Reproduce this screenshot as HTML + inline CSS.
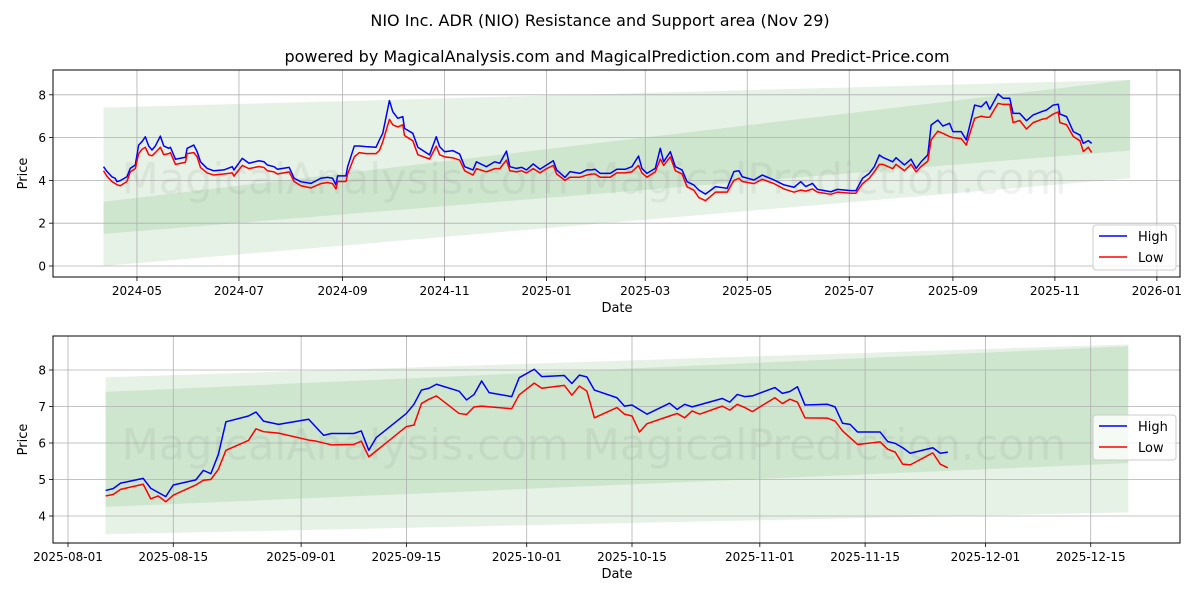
<!DOCTYPE html>
<html><head><meta charset="utf-8"><style>
body{margin:0;background:#fff;font-family:"Liberation Sans","DejaVu Sans",sans-serif;}
svg text{font-family:"DejaVu Sans","Liberation Sans",sans-serif;}
</style></head><body>
<svg id="chart" width="1200" height="600" xmlns="http://www.w3.org/2000/svg">
<rect width="1200" height="600" fill="#fff"/>
<text x="600" y="26" font-size="16" text-anchor="middle">NIO Inc. ADR (NIO) Resistance and Support area (Nov 29)</text>
<text x="617" y="62" font-size="16" text-anchor="middle">powered by MagicalAnalysis.com and MagicalPrediction.com and Predict-Price.com</text>
<g id="top"></g><g id="bot"></g>
</svg>
<script>
// ---- top chart data (days since 2024-04-01) ----
const topDays=[10,12,15,17,18,20,24,26,29,31,33,35,37,39,41,44,46,49,50,53,59,60,64,66,68,72,76,82,87,88,93,97,103,106,108,112,114,121,124,128,134,140,144,147,149,150,155,156,160,163,167,173,175,177,181,183,186,189,190,195,198,205,209,211,214,219,223,226,231,233,239,244,247,251,253,257,260,263,267,271,275,279,281,286,289,295,299,302,304,307,313,317,322,326,330,332,335,340,343,345,349,352,356,359,363,366,370,376,383,387,390,392,399,404,411,417,423,427,430,434,437,445,449,457,460,464,468,471,474,476,482,484,489,493,496,499,503,505,509,512,516,518,523,526,531,535,538,540,545,548,552,554,558,562,566,571,574,578,581,582,586,590,594,596,599,601];
const topHigh=[4.64,4.42,4.17,4.10,3.94,3.99,4.17,4.56,4.72,5.65,5.81,6.04,5.61,5.42,5.61,6.07,5.61,5.50,5.55,4.99,5.08,5.50,5.65,5.34,4.87,4.56,4.45,4.49,4.64,4.49,5.03,4.80,4.92,4.87,4.72,4.64,4.52,4.61,4.10,3.94,3.86,4.10,4.14,4.10,3.79,4.21,4.21,4.64,5.61,5.61,5.58,5.55,5.89,6.20,7.73,7.21,6.90,6.98,6.43,6.20,5.55,5.19,6.04,5.58,5.34,5.39,5.23,4.64,4.49,4.87,4.64,4.87,4.80,5.37,4.64,4.56,4.61,4.49,4.77,4.52,4.72,4.92,4.49,4.14,4.41,4.33,4.49,4.49,4.52,4.33,4.33,4.52,4.52,4.64,5.14,4.56,4.33,4.56,5.50,4.87,5.34,4.64,4.49,3.94,3.79,3.55,3.36,3.71,3.63,4.41,4.45,4.17,4.02,4.25,4.02,3.79,3.68,3.94,3.71,3.86,3.58,3.47,3.58,3.52,3.52,4.10,4.33,4.64,5.19,5.08,4.87,5.06,4.72,4.99,4.56,4.87,5.19,6.59,6.82,6.54,6.67,6.28,6.28,5.89,7.52,7.44,7.68,7.32,8.04,7.84,7.84,7.13,7.13,6.79,7.06,7.21,7.29,7.52,7.56,7.10,6.98,6.28,6.12,5.73,5.86,5.73];
const topLow=[4.45,4.20,3.95,3.85,3.80,3.75,3.95,4.40,4.55,5.25,5.45,5.55,5.20,5.15,5.30,5.55,5.20,5.25,5.30,4.75,4.85,5.25,5.30,5.10,4.60,4.35,4.25,4.30,4.35,4.20,4.70,4.55,4.65,4.60,4.45,4.40,4.30,4.40,3.95,3.75,3.65,3.85,3.90,3.85,3.60,3.95,3.95,4.30,5.10,5.30,5.25,5.25,5.40,5.80,6.85,6.60,6.50,6.60,6.10,5.85,5.20,5.00,5.60,5.20,5.10,5.05,4.95,4.45,4.25,4.55,4.40,4.55,4.55,4.95,4.45,4.40,4.45,4.35,4.55,4.35,4.55,4.70,4.30,4.00,4.15,4.15,4.25,4.30,4.30,4.15,4.15,4.35,4.35,4.40,4.70,4.35,4.15,4.40,5.00,4.70,5.10,4.45,4.30,3.70,3.55,3.20,3.05,3.45,3.45,4.00,4.10,3.95,3.85,4.05,3.85,3.60,3.45,3.55,3.50,3.60,3.45,3.35,3.45,3.40,3.40,3.85,4.10,4.40,4.75,4.75,4.55,4.75,4.45,4.75,4.40,4.65,4.90,5.90,6.30,6.20,6.05,6.00,5.95,5.65,6.90,7.00,6.95,6.95,7.60,7.55,7.55,6.70,6.80,6.40,6.70,6.85,6.90,7.10,7.20,6.70,6.60,6.05,5.85,5.35,5.55,5.30];
const topBandDays=[10,624];
const topOuterUpper=[7.4,8.7], topOuterLower=[1.5,5.4];
const topInnerUpper=[3.0,8.7], topInnerLower=[0.0,4.1];
const topYTicks=[0,2,4,6,8];
const topXTickDays=[30,91,153,214,275,334,395,456,518,579,640];
const topXTickLabels=["2024-05","2024-07","2024-09","2024-11","2025-01","2025-03","2025-05","2025-07","2025-09","2025-11","2026-01"];
// ---- bottom chart data (days since 2025-08-01) ----
const botHighDays=[5,6,7,10,11,13,14,17,18,19,20,21,24,25,26,28,32,34,35,38,39,40,41,45,46,47,48,49,52,53,54,55,56,59,60,62,63,66,67,68,69,70,73,74,75,77,80,81,82,83,87,88,89,90,91,94,95,96,97,98,101,102,103,104,105,108,109,110,111,112,115,116,117];
const botHigh=[4.70,4.75,4.90,5.03,4.76,4.53,4.85,4.99,5.25,5.16,5.69,6.58,6.74,6.85,6.60,6.51,6.65,6.21,6.26,6.26,6.33,5.80,6.15,6.81,7.06,7.45,7.50,7.61,7.42,7.18,7.33,7.70,7.38,7.27,7.79,8.02,7.82,7.85,7.63,7.86,7.81,7.45,7.24,7.01,7.04,6.79,7.09,6.92,7.06,6.99,7.22,7.12,7.33,7.27,7.29,7.52,7.36,7.41,7.54,7.04,7.06,6.99,6.54,6.51,6.30,6.30,6.04,5.99,5.87,5.72,5.87,5.72,5.75];
const botLowDays=[5,6,7,10,11,12,13,14,17,18,19,20,21,24,25,26,28,32,33,35,38,39,40,45,46,47,48,49,52,53,54,55,59,60,62,63,66,67,68,69,70,73,74,75,76,77,80,81,82,83,84,87,88,89,90,91,94,95,96,97,98,101,102,103,105,108,109,110,111,112,115,116,117];
const botLow=[4.55,4.59,4.73,4.87,4.47,4.55,4.39,4.57,4.85,4.98,5.00,5.28,5.80,6.07,6.39,6.31,6.27,6.08,6.05,5.95,5.96,6.05,5.62,6.45,6.49,7.08,7.20,7.29,6.81,6.78,6.99,7.01,6.94,7.32,7.64,7.50,7.58,7.31,7.56,7.42,6.69,6.97,6.79,6.74,6.30,6.53,6.74,6.81,6.69,6.88,6.79,7.01,6.90,7.06,6.97,6.86,7.24,7.08,7.20,7.12,6.69,6.68,6.60,6.33,5.96,6.03,5.83,5.75,5.42,5.40,5.73,5.42,5.32];
const botBandDays=[5,141];
const botOuterUpper=[7.8,8.7], botOuterLower=[3.5,4.1];
const botInnerUpper=[7.4,8.65], botInnerLower=[4.25,5.45];
const botYTicks=[4,5,6,7,8];
const botXTickDays=[0,14,31,45,61,75,92,106,122,136];
const botXTickLabels=["2025-08-01","2025-08-15","2025-09-01","2025-09-15","2025-10-01","2025-10-15","2025-11-01","2025-11-15","2025-12-01","2025-12-15"];

const NS="http://www.w3.org/2000/svg";
function mk(parent,tag,attrs,name){const e=document.createElementNS(NS,tag);for(const k in attrs)e.setAttribute(k,attrs[k]);


parent.appendChild(e);return e;}

function drawPanel(g,cfg){
  const L=53,R=1180,T=cfg.top,B=cfg.bottom;
  const xs=d=>cfg.x0+d*cfg.xk, ys=v=>cfg.y0-(v-cfg.v0)*cfg.yk;
  function band(up,lo,name){
    const d=cfg.bandDays;
    const pts=[[xs(d[0]),ys(up[0])],[xs(d[1]),ys(up[1])],[xs(d[1]),ys(lo[1])],[xs(d[0]),ys(lo[0])]];
    mk(g,'polygon',{points:pts.map(p=>p.join(',')).join(' '),fill:'#008000','fill-opacity':'0.1'},name);
  }
  band(cfg.ou,cfg.ol,'resistance-support-band-outer');
  band(cfg.iu,cfg.il,'resistance-support-band-inner');
  cfg.yticks.forEach(v=>{const y=ys(v);
    mk(g,'line',{x1:L,x2:R,y1:y,y2:y,stroke:'#b0b0b0','stroke-width':0.8},'y-gridline');
    mk(g,'line',{x1:L-4,x2:L,y1:y,y2:y,stroke:'#000','stroke-width':0.8},'y-tick');
    const t=mk(g,'text',{x:L-7,y:y+4.5,'font-size':12,'text-anchor':'end'},'y-tick-label');t.textContent=v;});
  cfg.xticks.forEach((d,i)=>{const x=xs(d);
    mk(g,'line',{x1:x,x2:x,y1:T,y2:B,stroke:'#b0b0b0','stroke-width':0.8},'x-gridline');
    mk(g,'line',{x1:x,x2:x,y1:B,y2:B+4,stroke:'#000','stroke-width':0.8},'x-tick');
    const t=mk(g,'text',{x:x,y:B+18,'font-size':12,'text-anchor':'middle'},'x-tick-label');t.textContent=cfg.xlabels[i];});
  const wm=mk(g,'text',{x:594,y:(T+B)/2+20,'font-size':43,'text-anchor':'middle',fill:'#808080','fill-opacity':0.11},'watermark');
  wm.textContent='MagicalAnalysis.com    MagicalPrediction.com';
  const line=(ds,vs,c,name)=>mk(g,'polyline',{points:ds.map((d,i)=>xs(d)+','+ys(vs[i])).join(' '),fill:'none',stroke:c,'stroke-width':1.5,'stroke-linejoin':'round'},name);
  line(cfg.hd,cfg.hv,'#0000ff','high-line');
  line(cfg.ld,cfg.lv,'#ff0000','low-line');
  mk(g,'rect',{x:L,y:T,width:R-L,height:B-T,fill:'none',stroke:'#000','stroke-width':1},'plot-frame');
  const yl=mk(g,'text',{x:27,y:(T+B)/2,'font-size':13,'text-anchor':'middle',transform:`rotate(-90 27 ${(T+B)/2})`},'y-axis-title');yl.textContent='Price';
  const xl=mk(g,'text',{x:617,y:B+35,'font-size':13,'text-anchor':'middle'},'x-axis-title');xl.textContent='Date';
  const lg=mk(g,'g',{},'legend');
  mk(lg,'rect',{x:1093,y:cfg.leg,width:83,height:45,rx:3,fill:'#fff','fill-opacity':0.8,stroke:'#ccc'},'legend-box');
  mk(lg,'line',{x1:1099,x2:1127,y1:cfg.leg+11,y2:cfg.leg+11,stroke:'#0000ff','stroke-width':1.6},'legend-high-swatch');
  const t1=mk(lg,'text',{x:1138,y:cfg.leg+16,'font-size':13},'legend-high-label');t1.textContent='High';
  mk(lg,'line',{x1:1099,x2:1127,y1:cfg.leg+32,y2:cfg.leg+32,stroke:'#ff0000','stroke-width':1.6},'legend-low-swatch');
  const t2=mk(lg,'text',{x:1138,y:cfg.leg+37,'font-size':13},'legend-low-label');t2.textContent='Low';
}
drawPanel(document.getElementById('top'),{top:70,bottom:277,x0:86.8,xk:1.672,y0:266,v0:0,yk:21.4,
  bandDays:topBandDays,ou:topOuterUpper,ol:topOuterLower,iu:topInnerUpper,il:topInnerLower,
  yticks:topYTicks,xticks:topXTickDays,xlabels:topXTickLabels,hd:topDays,hv:topHigh,ld:topDays,lv:topLow,leg:225});
drawPanel(document.getElementById('bot'),{top:336,bottom:543,x0:68,xk:7.52,y0:516,v0:4,yk:36.5,
  bandDays:botBandDays,ou:botOuterUpper,ol:botOuterLower,iu:botInnerUpper,il:botInnerLower,
  yticks:botYTicks,xticks:botXTickDays,xlabels:botXTickLabels,hd:botHighDays,hv:botHigh,ld:botLowDays,lv:botLow,leg:415});
</script>
</body></html>
